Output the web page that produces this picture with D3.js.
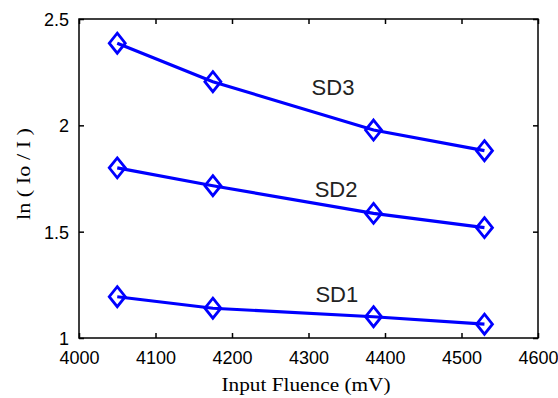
<!DOCTYPE html>
<html><head><meta charset="utf-8">
<script src="https://cdn.jsdelivr.net/npm/d3@7"></script>
<style>body{margin:0;background:#fff}svg{display:block}</style>
</head><body>
<svg id="c" width="558" height="398"></svg>
<script>
const fluence = [4050, 4175, 4385, 4530];
const sd1 = [1.194, 1.14, 1.10, 1.065];
const sd2 = [1.80, 1.716, 1.586, 1.519];
const sd3 = [2.386, 2.205, 1.978, 1.881];
const seriesNames = ["SD1", "SD2", "SD3"];
const labelX = [4337, 4336, 4332];
const labelY = [1.171, 1.665, 2.143];
const xTicks = [4000, 4100, 4200, 4300, 4400, 4500, 4600];
const yTicks = [1, 1.5, 2, 2.5];

const svg = d3.select("#c");
const L = 79, R = 538, T = 19, B = 338;
const x = d3.scaleLinear().domain([4000, 4600]).range([L, R]);
const y = d3.scaleLinear().domain([1, 2.5]).range([B, T]);

const tickFont = "Liberation Sans, Arial, sans-serif";

// frame
svg.append("rect").attr("x", L).attr("y", T).attr("width", R - L).attr("height", B - T)
  .attr("fill", "#fff").attr("stroke", "#000").attr("stroke-width", 1.5);

// axes
const xb = svg.append("g").attr("transform", `translate(0,${B})`)
  .call(d3.axisBottom(x).tickValues(xTicks).tickSize(-5).tickPadding(13).tickFormat(d3.format("d")));
const xt = svg.append("g").attr("transform", `translate(0,${T})`)
  .call(d3.axisTop(x).tickValues(xTicks).tickSize(-5).tickFormat(""));
const yl = svg.append("g").attr("transform", `translate(${L},0)`)
  .call(d3.axisLeft(y).tickValues(yTicks).tickSize(-5).tickPadding(10).tickFormat(d => String(d)));
const yr = svg.append("g").attr("transform", `translate(${R},0)`)
  .call(d3.axisRight(y).tickValues(yTicks).tickSize(-5).tickFormat(""));
[xb, xt, yl, yr].forEach(g => {
  g.select(".domain").remove();
  g.selectAll(".tick line").attr("stroke", "#000").attr("stroke-width", 1.5);
  g.selectAll(".tick text").attr("fill", "#000").style("font-family", tickFont).style("font-size", "18px");
});
yl.selectAll(".tick text").attr("dy", "0.36em");

// series
const allSeries = [sd1, sd2, sd3];
const line = d3.line().x((d, i) => x(fluence[i])).y(d => y(d));
allSeries.forEach((s, k) => {
  svg.append("path").datum(s).attr("d", line).attr("fill", "none")
    .attr("stroke", "#0000ff").attr("stroke-width", 3.2);
  svg.append("g").selectAll("path").data(s).join("path")
    .attr("d", (d, i) => {
      const cx = x(fluence[i]), cy = y(d), w = 8, h = 10;
      return `M${cx},${cy - h}L${cx + w},${cy}L${cx},${cy + h}L${cx - w},${cy}Z`;
    })
    .attr("fill", "none").attr("stroke", "#0000ff").attr("stroke-width", 2.8);
  svg.append("text").attr("x", x(labelX[k])).attr("y", y(labelY[k]))
    .attr("text-anchor", "middle").style("font-family", tickFont).style("font-size", "22px")
    .attr("fill", "#222").text(seriesNames[k]);
});

// axis labels
svg.append("text").attr("x", 306).attr("y", 391).attr("text-anchor", "middle")
  .style("font-family", "Liberation Serif, Times New Roman, serif").style("font-size", "18px")
  .attr("textLength", 169).attr("lengthAdjust", "spacingAndGlyphs")
  .text("Input Fluence (mV)");
svg.append("text").attr("transform", "translate(30,174) rotate(-90)").attr("text-anchor", "middle")
  .style("font-family", "Liberation Serif, Times New Roman, serif").style("font-size", "18px")
  .attr("textLength", 92).attr("lengthAdjust", "spacingAndGlyphs")
  .text("ln ( Io / I )");
</script>
</body></html>
